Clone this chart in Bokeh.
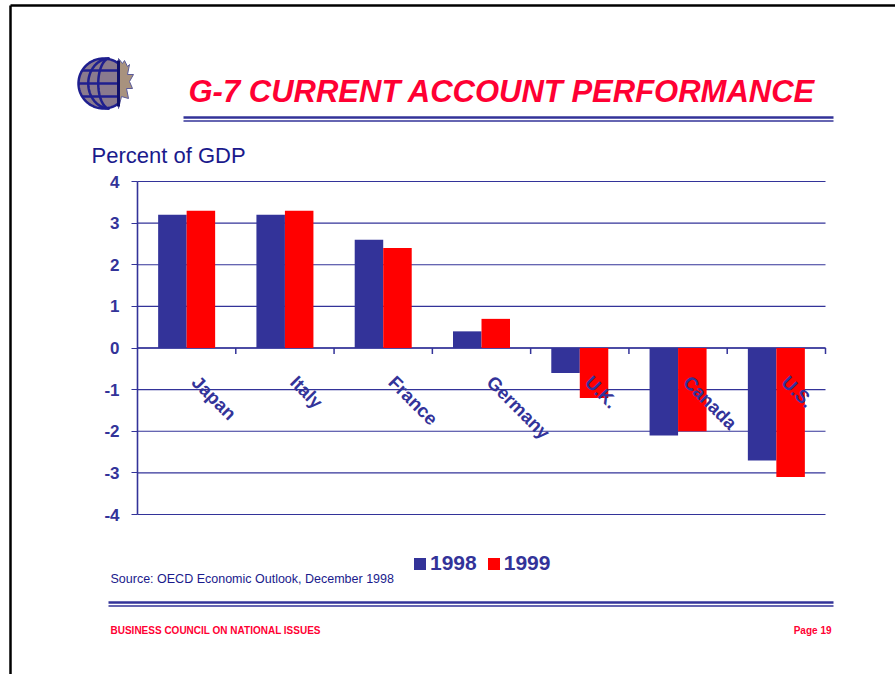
import numpy as np
from bokeh.plotting import figure
from bokeh.models import Range1d, LinearAxis, FixedTicker, Legend, LegendItem
from bokeh.core.properties import value
from bokeh.embed import file_html
from bokeh.resources import INLINE

# ---------------- data ----------------
categories = ["Japan", "Italy", "France", "Germany", "U.K.", "Canada", "U.S."]
values_1998 = [3.2, 3.2, 2.6, 0.4, -0.6, -2.1, -2.7]
values_1999 = [3.3, 3.3, 2.4, 0.7, -1.2, -2.0, -3.1]
series_names = ["1998", "1999"]
y_ticks = [-4, -3, -2, -1, 0, 1, 2, 3, 4]
title_text = "G-7 CURRENT ACCOUNT PERFORMANCE"
y_title = "Percent of GDP"
source_text = "Source: OECD Economic Outlook, December 1998"
footer_left = "BUSINESS COUNCIL ON NATIONAL ISSUES"
footer_right = "Page 19"

# ---------------- layout (pixels) ----------------
W, H = 895, 674
PL, PR, PT, PB = 137, 825, 181, 514
NAVY = "#333399"
BLUE = "#333399"
RED = "#FF0000"
TRED = "#FF0033"
TXT = "#1a1a8c"
FONT = value("Liberation Sans")

n = len(categories)
ymin, ymax = min(y_ticks), max(y_ticks)
kx = n / (PR - PL)
ky = (ymax - ymin) / (PB - PT)


def X(xp):
    return (xp - PL) * kx


def Y(yp):
    return ymin + (PB - yp) * ky


p = figure(width=W, height=H, output_backend="svg", toolbar_location=None, tools="",
           x_range=Range1d(X(0), X(W)), y_range=Range1d(Y(H), Y(0)),
           x_axis_location=None, y_axis_location=None, min_border=0)
p.outline_line_color = None
p.background_fill_color = "white"
p.border_fill_color = "white"
p.grid.visible = False

# page frame (black top/left rule)
p.segment(x0=[X(10), X(10)], y0=[Y(5), Y(5)], x1=[X(10), X(W + 5)], y1=[Y(H + 5), Y(5)],
          line_color="black", line_width=2.5)

# logo: globe + leaf
th = np.linspace(0, 2 * np.pi, 90)
gx, gy, gr = 103.0, 83.0, 25.0
cx = gx + gr * np.cos(th)
cy = gy + gr * np.sin(th)
cx = np.minimum(cx, 118.0)
leaf_x = [118, 122, 124, 127, 129, 127, 133, 129, 132, 126, 128, 121, 118]
leaf_y = [58, 63, 60, 66, 64, 74, 74, 81, 88, 88, 98, 96, 108]
p.patch(x=[X(v) for v in leaf_x], y=[Y(v) for v in leaf_y], fill_color="#a8927e",
        line_color="#5a5a9a", line_width=1)
p.patch(x=[X(v) for v in cx], y=[Y(v) for v in cy], fill_color="#8a7a8e",
        line_color="#1f1f8f", line_width=2.5)
for yy in [70, 83, 96]:
    dx = np.sqrt(max(gr ** 2 - (yy - gy) ** 2, 0))
    p.line(x=[X(gx - dx), X(min(gx + dx, 118))], y=[Y(yy), Y(yy)], line_color="#1f1f8f", line_width=2.5)
for a in [0.45, 0.85]:
    t2 = np.linspace(np.pi / 2, 3 * np.pi / 2, 40)
    ex = gx + 6 + a * gr * np.cos(t2)
    ey = gy + gr * np.sin(t2)
    p.line(x=[X(v) for v in ex], y=[Y(v) for v in ey], line_color="#1f1f8f", line_width=2.5)
p.line(x=[X(118), X(118)], y=[Y(60), Y(106)], line_color="#10106a", line_width=3)

# title and its double rule
p.text(x=[X(188)], y=[Y(91)], text=[title_text], text_font=FONT, text_font_size="31px",
       text_font_style="bold italic", text_color=TRED, text_baseline="middle", text_align="left")
p.segment(x0=[X(183), X(183)], y0=[Y(117), Y(120.5)], x1=[X(833), X(833)], y1=[Y(117), Y(120.5)],
          line_color=NAVY, line_width=[2.5, 1.5])

# y title
p.text(x=[X(91)], y=[Y(155)], text=[y_title], text_font=FONT, text_font_size="22px",
       text_color=TXT, text_baseline="middle", text_align="left")

# gridlines
p.segment(x0=[0] * len(y_ticks), x1=[n] * len(y_ticks), y0=y_ticks, y1=y_ticks,
          line_color=NAVY, line_width=1.2)
p.segment(x0=[0], x1=[n], y0=[0], y1=[0], line_color=NAVY, line_width=1.6)
# category boundary ticks on the zero line
p.segment(x0=list(range(1, n + 1)), x1=list(range(1, n + 1)), y0=[0] * n, y1=[-6 * ky] * n,
          line_color=NAVY, line_width=1.5)

# y axis
yax = LinearAxis(fixed_location=0, ticker=FixedTicker(ticks=y_ticks), bounds=(ymin, ymax))
yax.major_label_overrides = {t: str(t) for t in y_ticks}
yax.axis_line_color = NAVY
yax.axis_line_width = 1.6
yax.major_tick_line_color = NAVY
yax.major_tick_line_width = 1.2
yax.major_tick_out = 6
yax.major_tick_in = 0
yax.minor_tick_line_color = None
yax.major_label_text_font = "Liberation Sans"
yax.major_label_text_font_style = "bold"
yax.major_label_text_font_size = "17px"
yax.major_label_text_color = NAVY
yax.major_label_standoff = 12
p.add_layout(yax, "left")

# bars
xc = np.arange(n) + 0.5
bw = 0.29
r98 = p.vbar(x=xc - bw / 2, top=values_1998, bottom=0, width=bw, fill_color=BLUE, line_color=None)
r99 = p.vbar(x=xc + bw / 2, top=values_1999, bottom=0, width=bw, fill_color=RED, line_color=None)

# category labels (rotated, hanging from zero line)
p.text(x=xc + 16 * kx, y=[Y(371)] * n, text=categories, angle=-np.pi / 4, text_font=FONT,
       text_font_size="18.5px", text_font_style="bold", text_color=NAVY,
       text_align="left", text_baseline="top")

# legend
leg = Legend(items=[LegendItem(label=series_names[0], renderers=[r98]),
                    LegendItem(label=series_names[1], renderers=[r99])],
             orientation="horizontal", location=(412, H - 575))
leg.glyph_width = 15
leg.glyph_height = 15
leg.label_text_font = "Liberation Sans"
leg.label_text_font_style = "bold"
leg.label_text_font_size = "21px"
leg.label_text_color = NAVY
leg.label_standoff = 3
leg.spacing = 9
leg.padding = 0
leg.margin = 0
leg.border_line_color = None
leg.background_fill_alpha = 0
p.add_layout(leg, "center")

# source
p.text(x=[X(110)], y=[Y(578)], text=[source_text], text_font=FONT, text_font_size="12.5px",
       text_color=TXT, text_baseline="middle", text_align="left")

# bottom double rule
p.segment(x0=[X(108), X(108)], y0=[Y(602), Y(605.5)], x1=[X(833), X(833)], y1=[Y(602), Y(605.5)],
          line_color=NAVY, line_width=[2.5, 1.5])

# footer
p.text(x=[X(110)], y=[Y(630)], text=[footer_left], text_font=FONT, text_font_size="10px",
       text_font_style="bold", text_color=TRED, text_baseline="middle", text_align="left")
p.text(x=[X(831)], y=[Y(630)], text=[footer_right], text_font=FONT, text_font_size="10px",
       text_font_style="bold", text_color=TRED, text_baseline="middle", text_align="right")

open("out.html", "w").write(file_html(p, INLINE))
